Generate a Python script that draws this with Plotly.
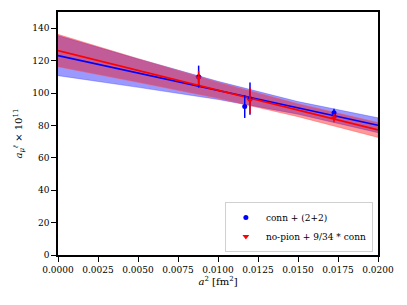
import plotly.graph_objects as go

# data points
blue_x = [0.00879, 0.01167, 0.01200, 0.01725]
blue_y = [110.1, 91.6, 96.5, 87.8]
blue_err = [6.8, 7.0, 10.0, 2.5]

red_x = [0.00879, 0.01200, 0.01725]
red_y = [109.2, 95.5, 84.5]
red_err = [4.5, 8.0, 2.5]

# fit curves and bands
fit_x = [0.0, 0.005, 0.010, 0.015, 0.020]
blue_fit = [123.1, 112.3, 101.6, 90.8, 80.1]
blue_hw = [12.4, 8.8, 5.6, 3.9, 4.6]
red_fit = [126.2, 113.9, 101.7, 89.4, 77.2]
red_hw = [10.0, 7.3, 5.0, 4.0, 4.6]

x_ticks = [0.0, 0.0025, 0.005, 0.0075, 0.01, 0.0125, 0.015, 0.0175, 0.02]
y_ticks = [0, 20, 40, 60, 80, 100, 120, 140]

FONT = "DejaVu Serif"

fig = go.Figure()

def band(xs, center, hw, fill, line_col):
    up = [c + h for c, h in zip(center, hw)]
    lo = [c - h for c, h in zip(center, hw)]
    fig.add_trace(go.Scatter(x=xs + xs[::-1], y=up + lo[::-1], fill="toself",
                             fillcolor=fill, line=dict(color=line_col, width=0.8),
                             mode="lines", showlegend=False, hoverinfo="skip"))

band(fit_x, blue_fit, blue_hw, "rgba(0,0,255,0.4)", "rgba(0,0,255,0.3)")
band(fit_x, red_fit, red_hw, "rgba(255,0,0,0.4)", "rgba(255,80,80,0.5)")

fig.add_trace(go.Scatter(x=fit_x, y=blue_fit, mode="lines", line=dict(color="blue", width=1.6),
                         showlegend=False))
fig.add_trace(go.Scatter(x=fit_x, y=red_fit, mode="lines", line=dict(color="red", width=1.6),
                         showlegend=False))

fig.add_trace(go.Scatter(x=blue_x, y=blue_y, mode="markers", name="conn + (2+2)",
                         marker=dict(color="blue", size=5, symbol="circle"),
                         error_y=dict(type="data", array=blue_err, color="blue", thickness=1.5, width=0)))
fig.add_trace(go.Scatter(x=red_x, y=red_y, mode="markers", name="no-pion + 9/34 * conn",
                         marker=dict(color="red", size=6, symbol="triangle-down"),
                         error_y=dict(type="data", array=red_err, color="red", thickness=1.5, width=0)))

axis_common = dict(showline=True, linecolor="black", linewidth=1.5, mirror=True,
                   ticks="outside", ticklen=5, tickwidth=1.2, tickcolor="black",
                   showgrid=False, zeroline=False, automargin=False,
                   tickfont=dict(family=FONT, size=9, color="black"))

fig.update_xaxes(range=[0, 0.02], tickvals=x_ticks, ticktext=[f"{v:.4f}" for v in x_ticks],
                 title=dict(text="<i>a</i><sup>2</sup> [fm<sup>2</sup>]",
                            font=dict(family=FONT, size=10, color="black"), standoff=2),
                 **axis_common)
fig.update_yaxes(range=[0, 150], tickvals=y_ticks,
                 title=dict(text="<i>a</i><sub><i>μ</i></sub><sup><i>ℓ</i></sup> × 10<sup>11</sup>",
                            font=dict(family=FONT, size=10, color="black"), standoff=8),
                 **axis_common)

# page body adds an 8px offset; size the figure so the plot area lands where the reference has it
fig.update_layout(
    width=399, height=297,
    margin=dict(l=50, r=29, t=4, b=50),
    plot_bgcolor="white", paper_bgcolor="white",
    legend=dict(x=0.984, y=0.012, xanchor="right", yanchor="bottom",
                bgcolor="rgba(255,255,255,0.8)", bordercolor="#d0d0d0", borderwidth=1,
                font=dict(family=FONT, size=9, color="black"), tracegroupgap=0,
                itemwidth=30),
)

fig.write_html("out.html")
